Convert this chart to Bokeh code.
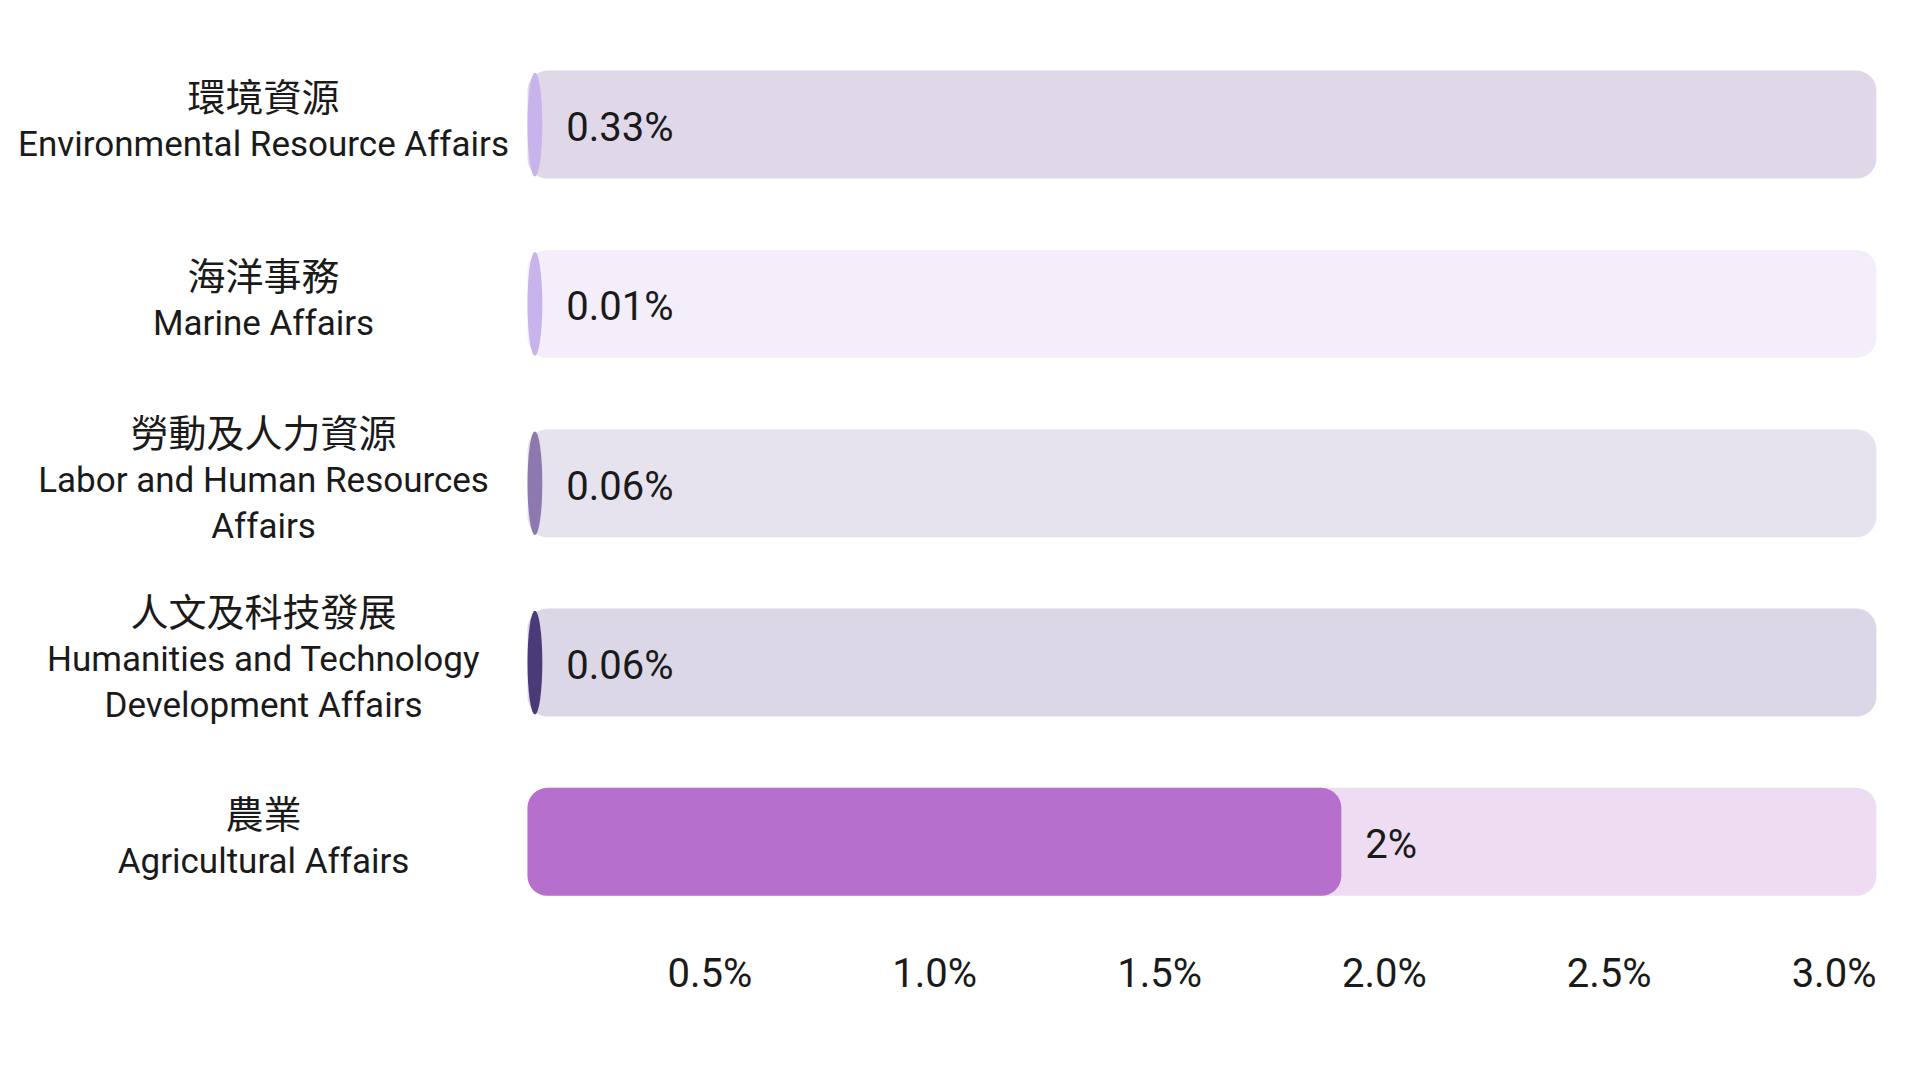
from bokeh.plotting import figure
from bokeh.models import ColumnDataSource, Range1d
from bokeh.embed import file_html
from bokeh.resources import INLINE
from bokeh.core.properties import value

# ---- data ----
names_zh = ["環境資源", "海洋事務", "勞動及人力資源", "人文及科技發展", "農業"]
names_en = ["Environmental Resource Affairs", "Marine Affairs",
            "Labor and Human Resources\nAffairs",
            "Humanities and Technology\nDevelopment Affairs",
            "Agricultural Affairs"]
value_labels = ["0.33%", "0.01%", "0.06%", "0.06%", "2%"]
bar_lengths = [0.033, 0.033, 0.033, 0.033, 1.81]   # drawn fill length on the % axis
track_max = 3.0
ticks = [0.5, 1.0, 1.5, 2.0, 2.5, 3.0]
tick_labels = ["0.5%", "1.0%", "1.5%", "2.0%", "2.5%", "3.0%"]
fill_colors = ["#C8B4EA", "#C8B4EA", "#8E79AE", "#4A3A78", "#B76FCE"]
track_colors = ["#E0D8E8", "#F3EEFA", "#E6E3EF", "#DCD7E6", "#EDDCF2"]

# ---- layout helpers ----
n = len(names_zh)
ys = list(range(n))
BAR_H = 0.602
TXT = "#1a1a1a"
TICK_ROW = 4.735          # row position of the tick-label line (below the last bar)

p = figure(width=1920, height=1080, output_backend="svg", toolbar_location=None,
           x_range=Range1d(-1.172, 3.098), y_range=Range1d(5.331, -0.692),
           x_axis_location=None, y_axis_location=None,
           min_border_left=0, min_border_right=0, min_border_top=0, min_border_bottom=0)
p.outline_line_color = None
p.xgrid.visible = False
p.ygrid.visible = False
p.background_fill_color = "white"
p.border_fill_color = "white"

# tracks
track_src = ColumnDataSource(dict(y=ys, right=[track_max] * n, color=track_colors))
p.hbar(y="y", left=0, right="right", height=BAR_H, source=track_src,
       fill_color="color", line_color=None, border_radius=20)

# fills: short ones drawn as ellipse caps, long ones as rounded bars
small = [i for i in ys if bar_lengths[i] < 0.1]
big = [i for i in ys if bar_lengths[i] >= 0.1]
small_src = ColumnDataSource(dict(
    x=[bar_lengths[i] / 2 for i in small], y=[ys[i] for i in small],
    w=[bar_lengths[i] for i in small], color=[fill_colors[i] for i in small]))
p.ellipse(x="x", y="y", width="w", height=BAR_H * 0.96, source=small_src,
          fill_color="color", line_color=None)
big_src = ColumnDataSource(dict(
    y=[ys[i] for i in big], right=[bar_lengths[i] for i in big],
    color=[fill_colors[i] for i in big]))
p.hbar(y="y", left=0, right="right", height=BAR_H, source=big_src,
       fill_color="color", line_color=None, border_radius=20)

# value labels
val_src = ColumnDataSource(dict(x=bar_lengths, y=ys, t=value_labels))
p.text(x="x", y="y", text="t", source=val_src, x_offset=24, y_offset=3,
       text_font=value("Roboto"), text_font_size="40px", text_color=TXT,
       text_align="left", text_baseline="middle")

# category labels (Chinese line + English lines), stacked around each bar centre
GAP_ZH = 50
GAP_EN = 46
LABEL_X = -0.587
zh_x, zh_y, zh_off, zh_t = [], [], [], []
en_x, en_y, en_off, en_t = [], [], [], []
for i in ys:
    lines_en = names_en[i].split("\n")
    offs = [0]
    for k in range(len(lines_en)):
        offs.append(offs[-1] + (GAP_ZH if k == 0 else GAP_EN))
    mid = (offs[0] + offs[-1]) / 2
    offs = [o - mid - 5 for o in offs]
    zh_x.append(LABEL_X); zh_y.append(i); zh_off.append(offs[0]); zh_t.append(names_zh[i])
    for k, ln in enumerate(lines_en):
        en_x.append(LABEL_X); en_y.append(i); en_off.append(offs[k + 1]); en_t.append(ln)

zh_src = ColumnDataSource(dict(x=zh_x, y=zh_y, off=zh_off, t=zh_t))
en_src = ColumnDataSource(dict(x=en_x, y=en_y, off=en_off, t=en_t))
p.text(x="x", y="y", text="t", y_offset="off", source=zh_src,
       text_font=value("Noto Sans CJK TC"), text_font_size="38px", text_color=TXT,
       text_align="center", text_baseline="middle")
p.text(x="x", y="y", text="t", y_offset="off", source=en_src,
       text_font=value("Roboto"), text_font_size="35px", text_color=TXT,
       text_align="center", text_baseline="middle")

# x tick labels, right-aligned at their tick values on the bar scale
tick_src = ColumnDataSource(dict(x=ticks, y=[TICK_ROW] * len(ticks), t=tick_labels))
p.text(x="x", y="y", text="t", source=tick_src,
       text_font=value("Roboto"), text_font_size="40px", text_color=TXT,
       text_align="right", text_baseline="middle")

open("out.html", "w").write(file_html(p, INLINE))
